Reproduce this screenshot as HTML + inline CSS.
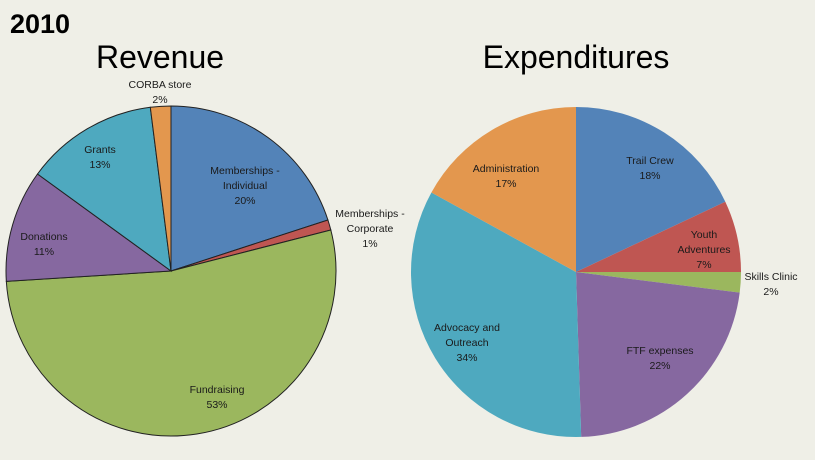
<!DOCTYPE html>
<html><head><style>
body{margin:0;background:#efefe7;}
svg{display:block;font-family:"Liberation Sans",sans-serif;}
.l{font-size:10.5px;fill:#1a1a1a;text-anchor:middle;}
</style></head><body>
<svg id="s" width="815" height="460" viewBox="0 0 815 460">
<rect width="815" height="460" fill="#efefe7"/>
<text x="10" y="33" font-size="27" font-weight="bold">2010</text>
<text x="160" y="68" font-size="32" text-anchor="middle">Revenue</text>
<text x="576" y="68" font-size="32" text-anchor="middle">Expenditures</text>
<g id="p1"></g><g id="p2"></g>
<g class="lab">
<text class="l" x="160" y="88">CORBA store</text><text class="l" x="160" y="103">2%</text>
<text class="l" x="100" y="153">Grants</text><text class="l" x="100" y="168">13%</text>
<text class="l" x="245" y="174">Memberships -</text><text class="l" x="245" y="189">Individual</text><text class="l" x="245" y="204">20%</text>
<text class="l" x="370" y="217">Memberships -</text><text class="l" x="370" y="232">Corporate</text><text class="l" x="370" y="247">1%</text>
<text class="l" x="44" y="240">Donations</text><text class="l" x="44" y="255">11%</text>
<text class="l" x="217" y="393">Fundraising</text><text class="l" x="217" y="408">53%</text>
<text class="l" x="506" y="172">Administration</text><text class="l" x="506" y="187">17%</text>
<text class="l" x="650" y="164">Trail Crew</text><text class="l" x="650" y="179">18%</text>
<text class="l" x="704" y="238">Youth</text><text class="l" x="704" y="253">Adventures</text><text class="l" x="704" y="268">7%</text>
<text class="l" x="771" y="280">Skills Clinic</text><text class="l" x="771" y="295">2%</text>
<text class="l" x="467" y="331">Advocacy and</text><text class="l" x="467" y="346">Outreach</text><text class="l" x="467" y="361">34%</text>
<text class="l" x="660" y="354">FTF expenses</text><text class="l" x="660" y="369">22%</text>
</g>
</svg>
<script>
function pie(id,cx,cy,r,data,stroke){
 var g=document.getElementById(id),a=0,h='';
 data.forEach(function(d){
  var a2=a+d[0]*3.6,r1=a*Math.PI/180,r2=a2*Math.PI/180;
  var x1=cx+r*Math.sin(r1),y1=cy-r*Math.cos(r1),x2=cx+r*Math.sin(r2),y2=cy-r*Math.cos(r2);
  h+='<path d="M'+cx+','+cy+'L'+x1+','+y1+'A'+r+','+r+' 0 '+((a2-a)>180?1:0)+' 1 '+x2+','+y2+'Z" fill="'+d[1]+'"'+(stroke?' stroke="#222" stroke-width="1"':'')+'/>';
  a=a2;});
 g.innerHTML=h;
}
var B='#5383b8',R='#bf5652',G='#9bb75e',P='#8668a0',T='#4ea9bf',O='#e3974e';
pie('p1',171,271,165,[[20,B],[1,R],[53,G],[11,P],[13,T],[2,O]],true);
pie('p2',576,272,165,[[18,B],[7,R],[2,G],[22.5,P],[33.5,T],[17,O]],false);
</script>
</body></html>
